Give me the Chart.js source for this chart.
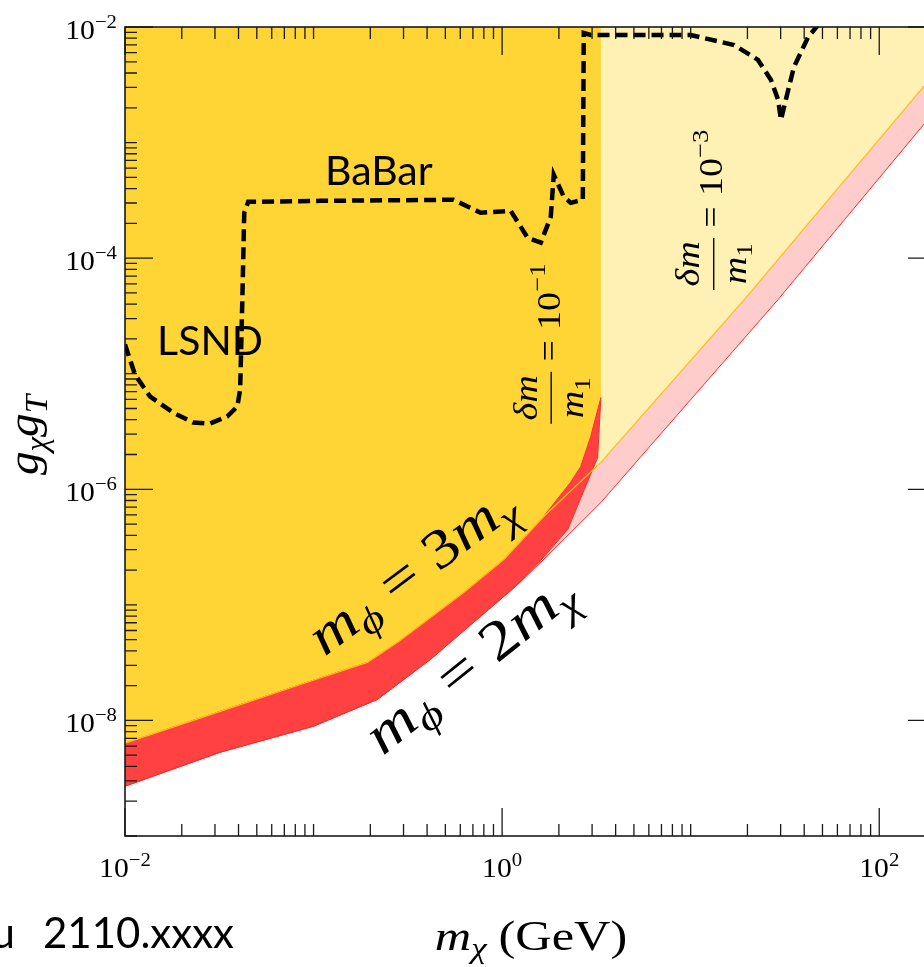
<!DOCTYPE html>
<html>
<head>
<meta charset="utf-8">
<script src="https://cdn.jsdelivr.net/npm/chart.js@4.4.0/dist/chart.umd.min.js"></script>
<style>
  html, body { margin: 0; padding: 0; background: #fff; overflow: hidden; }
  #wrap { position: relative; width: 960px; height: 967px; }
</style>
</head>
<body>
<div id="wrap"><canvas id="chart" width="960" height="967"></canvas></div>
<script>
// axis ranges (GeV on x, coupling on y) and the decades that get a label
const massRange = [0.01, 200];
const couplingRange = [1e-9, 1e-2];
const xLabelExps = [-2, 0, 2];
const yLabelExps = [-8, -6, -4, -2];

// LSND + BaBar limit, dashed
const limitMass = [0.01, 0.0113, 0.0136, 0.0180, 0.0230, 0.0283, 0.0348, 0.0394, 0.0408, 0.0413,
  0.0419, 0.0429, 0.0450, 0.109, 0.552, 0.769, 1.11, 1.365, 1.603, 1.811, 1.879, 2.123, 2.312,
  2.679, 2.710, 2.951, 10.0, 17.0, 22.75, 26.67, 29.1, 30.1, 32.9, 35.3, 42.0, 47.4];
const limitCoupling = [1.79e-5, 9.8e-6, 6.34e-6, 4.61e-6, 3.78e-6, 3.71e-6, 4.26e-6, 5.20e-6, 7.29e-6, 1.61e-5,
  4.37e-5, 2.47e-4, 3.07e-4, 3.13e-4, 3.20e-4, 2.47e-4, 2.57e-4, 1.50e-4, 1.36e-4, 2.28e-4, 5.26e-4, 3.40e-4, 3.01e-4,
  3.20e-4, 8.87e-3, 8.53e-3, 8.53e-3, 6.98e-3, 5.19e-3, 3.48e-3, 2.34e-3, 1.57e-3, 2.85e-3, 4.51e-3, 8.20e-3, 1.04e-2];

// dm/m1 = 0.1 : m_phi = 3 m_chi edge (upper) and m_phi = 2 m_chi edge (lower)
const wideUpMass = [0.01, 0.032, 0.0927, 0.193, 0.279, 0.625, 1.02, 1.66, 2.31, 2.61, 2.95, 3.34];
const wideUpCoupling = [6.35e-9, 1.20e-8, 2.14e-8, 3.18e-8, 4.74e-8, 1.28e-7, 2.47e-7, 5.82e-7, 1.15e-6, 1.57e-6, 2.86e-6, 6.21e-6];
const wideLowMass = [0.01, 0.032, 0.0998, 0.218, 0.417, 0.769, 1.21, 1.66, 2.23, 3.21];
const wideLowCoupling = [2.70e-9, 5.31e-9, 8.9e-9, 1.52e-8, 3.38e-8, 7.96e-8, 1.50e-7, 2.58e-7, 4.50e-7, 1.88e-6];

// dm/m1 = 1e-3 : same two edges
const narrowUpMass = [0.01, 0.032, 0.0927, 0.193, 0.279, 0.625, 1.02, 1.66, 3.34, 19.2, 175, 200];
const narrowUpCoupling = [6.35e-9, 1.20e-8, 2.14e-8, 3.18e-8, 4.74e-8, 1.28e-7, 2.47e-7, 5.82e-7, 1.71e-6, 4.36e-5, 3.16e-3, 4.08e-3];
const narrowLowMass = [0.01, 0.032, 0.0998, 0.218, 0.417, 0.769, 1.21, 1.66, 3.34, 29.0, 175, 200];
const narrowLowCoupling = [2.70e-9, 5.31e-9, 8.9e-9, 1.52e-8, 3.38e-8, 7.96e-8, 1.50e-7, 2.47e-7, 7.69e-7, 4.36e-5, 1.48e-3, 1.92e-3];

const pts = (xs, ys) => xs.map((x, i) => ({ x, y: ys[i] }));
const ceiling = couplingRange[1];

// closed shapes for the filled regions
const narrowExcluded = pts(narrowUpMass, narrowUpCoupling)
  .concat([{ x: massRange[1], y: ceiling }, { x: massRange[0], y: ceiling }]);
const narrowBand = pts(narrowUpMass, narrowUpCoupling).concat(pts(narrowLowMass, narrowLowCoupling).reverse());
const wideExcluded = pts(wideUpMass, wideUpCoupling)
  .concat([{ x: wideUpMass[wideUpMass.length - 1], y: ceiling }, { x: massRange[0], y: ceiling }]);
const wideBand = pts(wideUpMass, wideUpCoupling).concat(pts(wideLowMass, wideLowCoupling).reverse());

const SERIF = '"Liberation Serif", "DejaVu Serif", serif';
const SANS = 'Lato, "Open Sans", sans-serif';

// draws (or only measures) a run of math parts {t, it, sub, sup};
// k widens the glyphs along the text, the TeX fonts run wider than Times
function mathRun(ctx, parts, x, y, size, draw, k = 1) {
  let cx = x;
  for (const p of parts) {
    const s = (p.sub || p.sup) ? size * 0.7 : size;
    ctx.font = (p.it ? 'italic ' : '') + s + 'px ' + SERIF;
    const dy = p.sub ? size * 0.2 : p.sup ? -size * 0.42 : 0;
    if (draw) {
      ctx.save();
      ctx.translate(cx, y + dy);
      ctx.scale(k, 1);
      ctx.fillText(p.t, 0, 0);
      ctx.restore();
    }
    cx += ctx.measureText(p.t).width * k + (p.gap || 0) * size;
  }
  return cx - x;
}

function centeredMath(ctx, parts, cx, cy, size, angle, k) {
  ctx.save();
  ctx.translate(cx, cy);
  ctx.rotate(angle);
  const w = mathRun(ctx, parts, 0, 0, size, false, k);
  mathRun(ctx, parts, -w / 2, 0, size, true, k);
  ctx.restore();
}

// dm / m1 = 10^e, written bottom-to-top
function fractionLabel(ctx, cx, cy, size, exp, k) {
  ctx.save();
  ctx.translate(cx, cy);
  ctx.rotate(-Math.PI / 2);
  const num = [{ t: 'δm', it: true }];
  const den = [{ t: 'm', it: true }, { t: '1', sub: true }];
  const rest = [{ t: '10' }, { t: '−' + exp, sup: true }];
  const nw = mathRun(ctx, num, 0, 0, size, false, k);
  const dw = mathRun(ctx, den, 0, 0, size, false, k);
  const barW = Math.max(nw, dw) + size * 0.2;
  ctx.font = size + 'px ' + SERIF;
  const eqW = ctx.measureText('=').width * k;
  const rw = mathRun(ctx, rest, 0, 0, size, false, k);
  const sp = size * 0.3;
  const total = barW + sp * 2 + eqW + rw;
  let x = -total / 2;
  mathRun(ctx, num, x + (barW - nw) / 2, -size * 0.68, size, true, k);
  mathRun(ctx, den, x + (barW - dw) / 2, size * 0.69, size, true, k);
  ctx.fillRect(x, -size * 0.27, barW, Math.max(1.2, size * 0.04));
  x += barW + sp;
  mathRun(ctx, [{ t: '=' }], x, 0, size, true, k);
  x += eqW + sp;
  mathRun(ctx, rest, x, 0, size, true, k);
  ctx.restore();
}

const frameAndText = {
  id: 'frameAndText',
  afterDraw(chart) {
    const { ctx, chartArea: a } = chart;
    const xs = chart.scales.x, ys = chart.scales.y;
    ctx.save();
    ctx.strokeStyle = '#1a1a1a';
    ctx.fillStyle = '#000';

    // ticks, pointing inwards on all four sides; long ones every second decade
    const decadeTicks = (scale, cb) => {
      const e0 = Math.floor(Math.log10(scale.min)), e1 = Math.ceil(Math.log10(scale.max));
      for (let e = e0; e <= e1; e++) {
        for (let m = 1; m < 10; m++) {
          const v = m * Math.pow(10, e);
          if (v < scale.min * 0.999 || v > scale.max * 1.001) continue;
          cb(scale.getPixelForValue(v), m === 1 && e % 2 === 0 ? 28 : 12);
        }
      }
    };
    ctx.beginPath();
    decadeTicks(xs, (p, len) => {
      ctx.moveTo(p, a.bottom); ctx.lineTo(p, a.bottom - len);
      ctx.moveTo(p, a.top); ctx.lineTo(p, a.top + len);
    });
    decadeTicks(ys, (p, len) => {
      ctx.moveTo(a.left, p); ctx.lineTo(a.left + len, p);
      ctx.moveTo(a.right, p); ctx.lineTo(a.right - len, p);
    });
    ctx.lineWidth = 1.3;
    ctx.stroke();
    ctx.lineWidth = 1.6;
    ctx.strokeRect(a.left, a.top, a.right - a.left, a.bottom - a.top);

    // tick labels
    const tickParts = e => [{ t: '10' }, { t: (e < 0 ? '−' : '') + Math.abs(e), sup: true }];
    ctx.textBaseline = 'alphabetic';
    for (const e of xLabelExps) {
      const p = xs.getPixelForValue(Math.pow(10, e));
      const w = mathRun(ctx, tickParts(e), 0, 0, 27, false, 1.1);
      mathRun(ctx, tickParts(e), p - w / 2, a.bottom + 41, 27, true, 1.1);
    }
    for (const e of yLabelExps) {
      const p = ys.getPixelForValue(Math.pow(10, e));
      const w = mathRun(ctx, tickParts(e), 0, 0, 27, false, 1.1);
      mathRun(ctx, tickParts(e), a.left - 8 - w, p + 12, 27, true, 1.1);
    }

    // axis titles
    const xTitle = [{ t: 'm', it: true }, { t: 'χ', it: true, sub: true, gap: 0.28 }, { t: '(GeV)' }];
    const xw = mathRun(ctx, xTitle, 0, 0, 42, false, 1.2);
    mathRun(ctx, xTitle, 531 - xw / 2, 950, 42, true, 1.2);
    centeredMath(ctx, [{ t: 'g', it: true }, { t: 'χ', it: true, sub: true },
      { t: 'g', it: true }, { t: 'T', it: true, sub: true }], 38, 435, 45, -Math.PI / 2, 1.05);

    // curve labels
    const at = (m, g) => [xs.getPixelForValue(m), ys.getPixelForValue(g)];
    const phiLabel = n => [{ t: 'm', it: true }, { t: 'ϕ', it: true, sub: true }, { t: ' = ' + n },
      { t: 'm', it: true }, { t: 'χ', it: true, sub: true }];
    let [px, py] = at(0.375, 1.50e-7);
    centeredMath(ctx, phiLabel(3), px, py, 55, -0.64, 1.2);
    [px, py] = at(0.769, 2.36e-8);
    centeredMath(ctx, phiLabel(2), px, py, 56, -0.678, 1.22);
    [px, py] = at(2.02, 1.82e-5);
    fractionLabel(ctx, px, py, 34, 1, 1.12);
    [px, py] = at(14.7, 2.62e-4);
    fractionLabel(ctx, px, py, 34, 3, 1.12);

    // experiment names and the slide reference
    ctx.font = '41px ' + SANS;
    [px, py] = at(0.115, 4.3e-4);
    ctx.fillText('BaBar', px, py);
    [px, py] = at(0.0148, 1.46e-5);
    ctx.fillText('LSND', px, py);
    ctx.font = '42px ' + SANS;
    ctx.textAlign = 'right';
    ctx.fillText('u', 15, 948);
    ctx.textAlign = 'left';
    ctx.fillText('2110.xxxx', 43, 948);
    ctx.restore();
  }
};

const clear = 'rgba(0,0,0,0)';
new Chart(document.getElementById('chart'), {
  type: 'line',
  data: {
    datasets: [
      { label: 'LSND / BaBar', data: pts(limitMass, limitCoupling), borderColor: '#000', borderWidth: 4.5,
        borderDash: [12, 6], fill: false, order: 0 },
      { label: 'dm/m1=1e-3, 2m', data: pts(narrowLowMass, narrowLowCoupling), borderColor: '#ff2a2a',
        borderWidth: 1, fill: false, order: 1 },
      { label: 'dm/m1=1e-3, 3m', data: pts(narrowUpMass, narrowUpCoupling), borderColor: '#fcbf1e',
        borderWidth: 1.3, fill: false, order: 2 },
      { label: 'dm/m1=0.1 band', data: wideBand, backgroundColor: '#ff4141', borderColor: '#ff2e2e',
        borderWidth: 1, fill: 'shape', order: 3 },
      { label: 'dm/m1=0.1 excluded', data: wideExcluded, backgroundColor: '#fed535', borderColor: clear,
        borderWidth: 0, fill: 'shape', order: 4 },
      { label: 'dm/m1=1e-3 band', data: narrowBand, backgroundColor: '#ffcccc', borderColor: clear,
        borderWidth: 0, fill: 'shape', order: 5 },
      { label: 'dm/m1=1e-3 excluded', data: narrowExcluded, backgroundColor: '#fff0b3', borderColor: clear,
        borderWidth: 0, fill: 'shape', order: 6 }
    ]
  },
  options: {
    responsive: false,
    animation: false,
    events: [],
    elements: { point: { radius: 0, hoverRadius: 0 }, line: { tension: 0 } },
    layout: { padding: { top: 27, right: 24, left: 0, bottom: 0 } },
    plugins: { legend: { display: false }, tooltip: { enabled: false } },
    scales: {
      x: {
        type: 'logarithmic', min: massRange[0], max: massRange[1],
        grid: { display: false }, border: { display: false }, ticks: { display: false },
        afterFit: s => { s.height = 131; }
      },
      y: {
        type: 'logarithmic', min: couplingRange[0], max: couplingRange[1],
        grid: { display: false }, border: { display: false }, ticks: { display: false },
        afterFit: s => { s.width = 125; }
      }
    }
  },
  plugins: [frameAndText]
});
</script>
</body>
</html>
